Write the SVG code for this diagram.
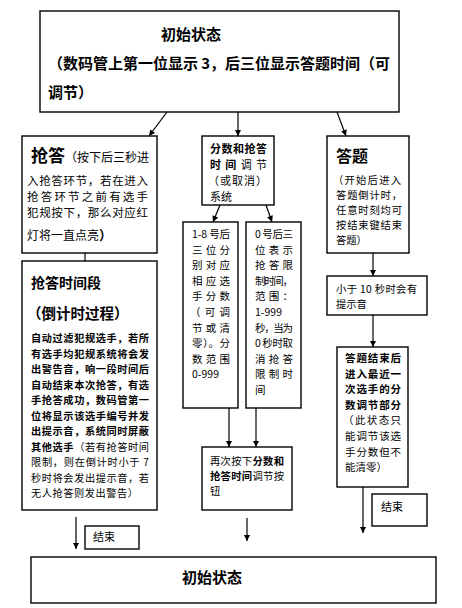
<svg xmlns="http://www.w3.org/2000/svg" width="462" height="608" viewBox="0 0 462 608">
<style>
text{font-family:"Noto Sans CJK SC","Noto Sans",sans-serif;fill:#000}
.b{font-weight:bold}
.box{fill:#fff;stroke:#000;stroke-width:1.4}
.c{stroke:#000;stroke-width:1.2;fill:none}
</style>
<defs>
<marker id="ah" viewBox="0 0 8 8" refX="8" refY="4" markerWidth="7" markerHeight="6" orient="auto" markerUnits="userSpaceOnUse"><path d="M0,0 L8,4 L0,8 z" fill="#000"/></marker>
</defs>
<rect width="462" height="608" fill="#fff"/>

<g id="connectors">
<line class="c" x1="167" y1="112" x2="149" y2="136" marker-end="url(#ah)"/>
<line class="c" x1="238" y1="112" x2="238" y2="136" marker-end="url(#ah)"/>
<line class="c" x1="337" y1="112" x2="346" y2="136" marker-end="url(#ah)"/>
<line class="c" x1="85" y1="253" x2="85" y2="261"/>
<line class="c" x1="220" y1="205" x2="213" y2="222" marker-end="url(#ah)"/>
<line class="c" x1="266" y1="205" x2="272" y2="222" marker-end="url(#ah)"/>
<line class="c" x1="229" y1="408" x2="229" y2="447" marker-end="url(#ah)"/>
<line class="c" x1="256" y1="408" x2="256" y2="447" marker-end="url(#ah)"/>
<line class="c" x1="373" y1="253" x2="373" y2="276" marker-end="url(#ah)"/>
<line class="c" x1="373" y1="315" x2="373" y2="347" marker-end="url(#ah)"/>
<line class="c" x1="76" y1="517" x2="76" y2="549" marker-end="url(#ah)"/>
<line class="c" x1="247" y1="518" x2="247" y2="541" marker-end="url(#ah)"/>
<line class="c" x1="363" y1="487" x2="363" y2="533" marker-end="url(#ah)"/>
</g>

<g id="init-top">
<rect class="box" x="40" y="11" width="359" height="101"/>
<text class="b" x="161" y="40" font-size="15">初始状态</text>
<text class="b" x="48" y="69" font-size="15" textLength="342" lengthAdjust="spacing">（数码管上第一位显示 3，后三位显示答题时间（可</text>
<text class="b" x="48" y="98" font-size="15">调节）</text>
</g>

<g id="qiangda">
<rect class="box" x="22" y="136" width="135" height="117"/>
<text x="31" y="162"><tspan class="b" font-size="17">抢答</tspan><tspan font-size="12">（按下后三秒进</tspan></text>
<text x="27" y="185" font-size="11.5" textLength="121" lengthAdjust="spacing">入抢答环节，若在进入</text>
<text x="27" y="201" font-size="11.5" textLength="121" lengthAdjust="spacing">抢答环节之前有选手</text>
<text x="27" y="217" font-size="11.5" textLength="121" lengthAdjust="spacing">犯规按下，那么对应红</text>
<text x="27" y="240" font-size="12">灯将一直点亮<tspan class="b" font-size="13">）</tspan></text>
</g>

<g id="qiangda-time">
<rect class="box" x="22" y="261" width="135" height="249"/>
<text class="b" x="31" y="288" font-size="14">抢答时间段</text>
<text class="b" x="27" y="319" font-size="14.5">（倒计时过程）</text>
<g class="b" font-size="10.2">
<text x="31" y="342" textLength="118" lengthAdjust="spacing">自动过滤犯规选手，若所</text>
<text x="31" y="357.5" textLength="118" lengthAdjust="spacing">有选手均犯规系统将会发</text>
<text x="31" y="373" textLength="118" lengthAdjust="spacing">出警告音，响一段时间后</text>
<text x="31" y="388.5" textLength="118" lengthAdjust="spacing">自动结束本次抢答，有选</text>
<text x="31" y="404" textLength="118" lengthAdjust="spacing">手抢答成功，数码管第一</text>
<text x="31" y="419.5" textLength="118" lengthAdjust="spacing">位将显示该选手编号并发</text>
<text x="31" y="435" textLength="118" lengthAdjust="spacing">出提示音，系统同时屏蔽</text>
</g>
<text x="31" y="450.5" font-size="10.2" textLength="118" lengthAdjust="spacing"><tspan class="b">其他选手</tspan>（若有抢答时间</text>
<text x="31" y="466" font-size="10.2" textLength="118" lengthAdjust="spacing">限制，则在倒计时小于 7</text>
<text x="31" y="481.5" font-size="10.2" textLength="118" lengthAdjust="spacing">秒时将会发出提示音，若</text>
<text x="31" y="497" font-size="10.2" textLength="107" lengthAdjust="spacing">无人抢答则发出警告）</text>
</g>

<g id="adjust-system">
<rect class="box" x="202" y="136" width="72" height="69"/>
<text class="b" x="210" y="153" font-size="11" textLength="57" lengthAdjust="spacing">分数和抢答</text>
<text x="210" y="169" font-size="11" textLength="57" lengthAdjust="spacing"><tspan class="b">时 间</tspan> 调 节</text>
<text x="208" y="185" font-size="11" textLength="59" lengthAdjust="spacing">（或取消）</text>
<text x="210" y="200.5" font-size="11">系统</text>
</g>

<g id="score-box">
<rect class="box" x="183" y="222" width="55" height="186"/>
<g font-size="10.5">
<text x="192" y="238" textLength="38" lengthAdjust="spacing">1-8 号后</text>
<text x="192" y="253.6" textLength="38" lengthAdjust="spacing">三位分</text>
<text x="192" y="269.2" textLength="38" lengthAdjust="spacing">别对应</text>
<text x="192" y="284.8" textLength="38" lengthAdjust="spacing">相应选</text>
<text x="192" y="300.4" textLength="38" lengthAdjust="spacing">手分数</text>
<text x="190" y="316" textLength="40" lengthAdjust="spacing">（可调</text>
<text x="192" y="331.6" textLength="38" lengthAdjust="spacing">节或清</text>
<text x="192" y="347.2" textLength="38" lengthAdjust="spacing">零）。分</text>
<text x="192" y="362.8" textLength="38" lengthAdjust="spacing">数范围</text>
<text x="192" y="378.4">0-999</text>
</g>
</g>

<g id="time-box">
<rect class="box" x="246" y="222" width="55" height="186"/>
<g font-size="10.5">
<text x="255" y="238" textLength="38" lengthAdjust="spacing">0 号后三</text>
<text x="255" y="253.6" textLength="38" lengthAdjust="spacing">位表示</text>
<text x="255" y="269.2" textLength="38" lengthAdjust="spacing">抢答限</text>
<text x="255" y="284.8" textLength="38" lengthAdjust="spacing">制时间，</text>
<text x="255" y="300.4" textLength="38" lengthAdjust="spacing">范围：</text>
<text x="255" y="316">1-999</text>
<text x="255" y="331.6" textLength="38" lengthAdjust="spacing">秒，当为</text>
<text x="255" y="347.2" textLength="38" lengthAdjust="spacing">0 秒时取</text>
<text x="255" y="362.8" textLength="38" lengthAdjust="spacing">消抢答</text>
<text x="255" y="378.4" textLength="38" lengthAdjust="spacing">限制时</text>
<text x="255" y="394">间</text>
</g>
</g>

<g id="press-again">
<rect class="box" x="202" y="447" width="90" height="63"/>
<text x="210" y="465" font-size="10.3" textLength="74" lengthAdjust="spacing">再次按下<tspan class="b">分数和</tspan></text>
<text x="210" y="480" font-size="10.3" textLength="74" lengthAdjust="spacing"><tspan class="b">抢答时间</tspan>调节按</text>
<text x="210" y="495" font-size="10.3">钮</text>
</g>

<g id="answer">
<rect class="box" x="327" y="136" width="82" height="117"/>
<text class="b" x="336" y="162" font-size="16">答题</text>
<g font-size="10.3">
<text x="333" y="184" textLength="68" lengthAdjust="spacing">（开始后进入</text>
<text x="336" y="199" textLength="66" lengthAdjust="spacing">答题倒计时，</text>
<text x="336" y="214" textLength="66" lengthAdjust="spacing">任意时刻均可</text>
<text x="336" y="229" textLength="66" lengthAdjust="spacing">按结束键结束</text>
<text x="336" y="244">答题）</text>
</g>
</g>

<g id="under10">
<rect class="box" x="327" y="276" width="100" height="39"/>
<text x="336" y="292.5" font-size="10.3" textLength="81" lengthAdjust="spacing">小于 10 秒时会有</text>
<text x="336" y="307.5" font-size="10.3">提示音</text>
</g>

<g id="score-adjust">
<rect class="box" x="337" y="347" width="71" height="140"/>
<g class="b" font-size="10.5">
<text x="345" y="362" textLength="56" lengthAdjust="spacing">答题结束后</text>
<text x="345" y="377.6" textLength="56" lengthAdjust="spacing">进入最近一</text>
<text x="345" y="393.2" textLength="56" lengthAdjust="spacing">次选手的分</text>
<text x="345" y="408.8" textLength="56" lengthAdjust="spacing">数调节部分</text>
</g>
<g font-size="10.5">
<text x="343" y="424.4" textLength="58" lengthAdjust="spacing">（此状态只</text>
<text x="345" y="440" textLength="56" lengthAdjust="spacing">能调节该选</text>
<text x="345" y="455.6" textLength="56" lengthAdjust="spacing">手分数但不</text>
<text x="345" y="471.2">能清零）</text>
</g>
</g>

<g id="end-left">
<rect class="box" x="85" y="526" width="54" height="23"/>
<text x="93" y="541" font-size="11">结束</text>
</g>

<g id="end-right">
<rect class="box" x="372" y="494" width="55" height="32"/>
<text x="381" y="511" font-size="11">结束</text>
</g>

<g id="init-bottom">
<rect class="box" x="31" y="557" width="405" height="46"/>
<text class="b" x="182" y="583" font-size="15">初始状态</text>
</g>
</svg>
